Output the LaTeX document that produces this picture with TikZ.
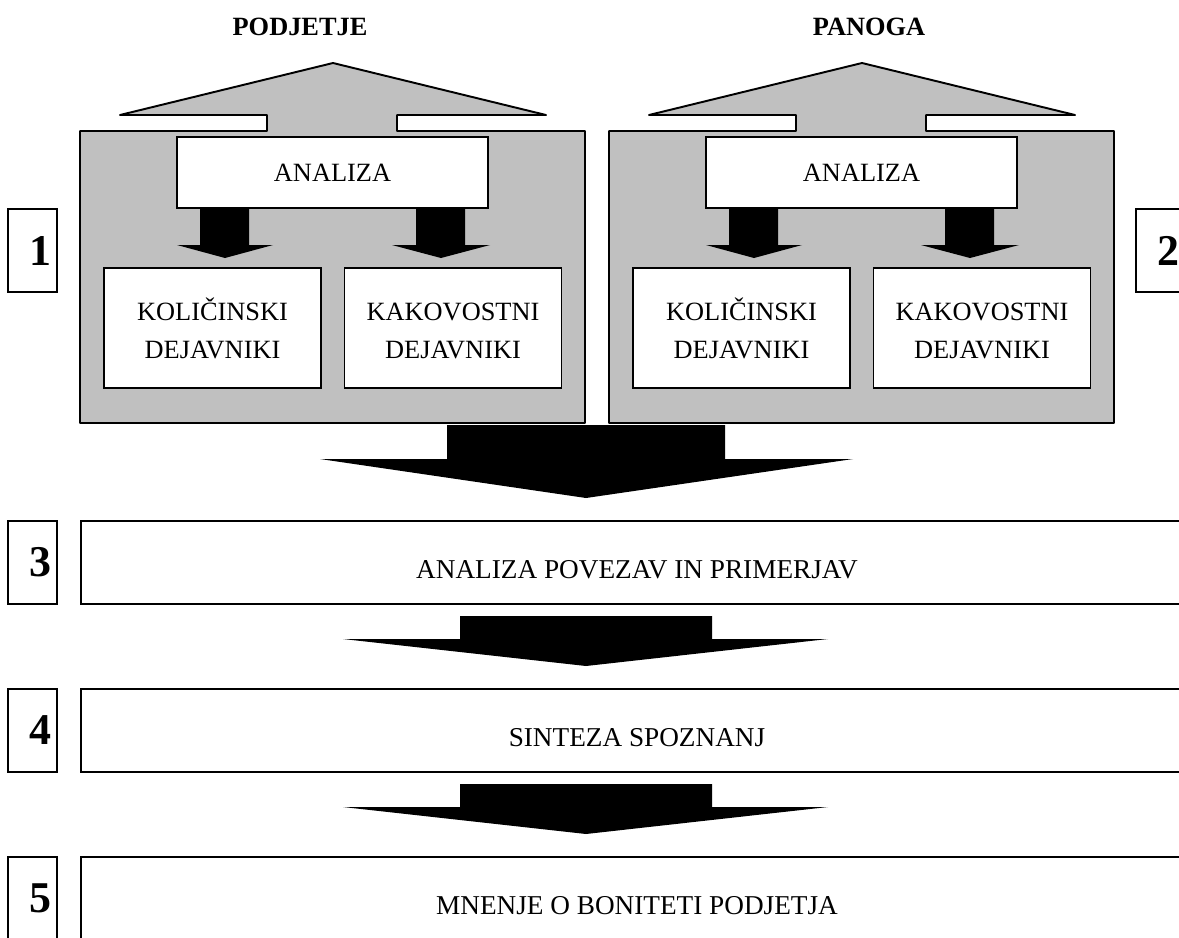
\documentclass[tikz,border=0pt]{standalone}
\usepackage{fontspec}
\setmainfont{Liberation Serif}
\usepackage{xcolor}
\usepackage{tikz}
\usetikzlibrary{positioning}
\definecolor{panelgray}{RGB}{192,192,192}

\begin{document}
\begin{tikzpicture}[x=0.02cm, y=-0.02cm, line width=1.1pt]
\tikzset{
  txt/.style={font=\fontsize{15}{21.6}\selectfont,align=center},
  box/.style={rectangle,draw=black,fill=white,txt,inner sep=0pt},
  anabox/.style={box,minimum width=311*0.02cm,minimum height=71*0.02cm},
  facbox/.style={box,minimum width=217*0.02cm,minimum height=120*0.02cm},
  numbox/.style={rectangle,draw=black,fill=white,minimum width=49*0.02cm,minimum height=83*0.02cm,inner sep=0pt,font=\fontsize{25}{25}\selectfont\bfseries},
  wide/.style={box,font=\fontsize{15.5}{18}\selectfont,minimum width=1112*0.02cm,minimum height=83*0.02cm,text height=18.6pt,text depth=0pt},
  ttl/.style={font=\fontsize{15}{18}\selectfont\bfseries},
  panel/.style={draw=black,fill=panelgray,line join=round},
  blk/.style={fill=black}
}
\useasboundingbox (0,0) rectangle (1179,937);
\clip (0,0) rectangle (1179,937);
% ---- titles
\node[ttl] (tpod) at (300,27) {PODJETJE};
\node[ttl] (tpan) at (869,27) {PANOGA};
% ---- the two panels
\foreach \dx/\nm in {0/l,529/r} {
\begin{scope}[xshift=\dx*0.02cm]
\draw[panel] (80,131) -- (267,131) -- (267,115) -- (120,115) -- (333,63) -- (546,115) -- (397,115) -- (397,131) -- (585,131) -- (585,423) -- (80,423) -- cycle;
\node[anabox] (ana\nm) at (332.5,172.5) {ANALIZA};
\fill[blk] (200,208) -- (249,208) -- (249,245) -- (273,245) -- (225,258) -- (177,245) -- (200,245) -- cycle;
\fill[blk] (416,208) -- (465,208) -- (465,245) -- (490,245) -- (441,258) -- (392,245) -- (416,245) -- cycle;
\node[facbox] (kol\nm) at (212.5,328) {KOLIČINSKI\\DEJAVNIKI};
\node[facbox] (kak\nm) at (453,328) {KAKOVOSTNI\vphantom{Č}\\DEJAVNIKI};
\end{scope}
}
% ---- numbers
\node[numbox] (n1) at (32.5,250.5) {\hspace*{0.3cm}1};
\node[numbox] (n2) at (1160.5,250.5) {\hspace*{0.3cm}2};
\node[numbox] (n3) at (32.5,562.5) {\hspace*{0.3cm}3};
\node[numbox] (n4) at (32.5,730.5) {\hspace*{0.3cm}4};
\node[numbox] (n5) at (32.5,898.5) {\hspace*{0.3cm}5};
% ---- lower steps
\node[wide] (pov) at (637,562.5) {ANALIZA POVEZAV IN PRIMERJAV};
\node[wide] (sin) at (637,730.5) {SINTEZA SPOZNANJ};
\node[wide] (mne) at (637,898.5) {MNENJE O BONITETI PODJETJA};
% ---- big arrows
\fill[blk] (447,425) -- (725,425) -- (725,459) -- (853,459) -- (586,498) -- (320,459) -- (447,459) -- cycle;
\fill[blk] (460,616) -- (712,616) -- (712,639) -- (828,639) -- (586,666) -- (343,639) -- (460,639) -- cycle;
\fill[blk] (460,784) -- (712,784) -- (712,807) -- (828,807) -- (586,834) -- (343,807) -- (460,807) -- cycle;
\end{tikzpicture}
\end{document}
